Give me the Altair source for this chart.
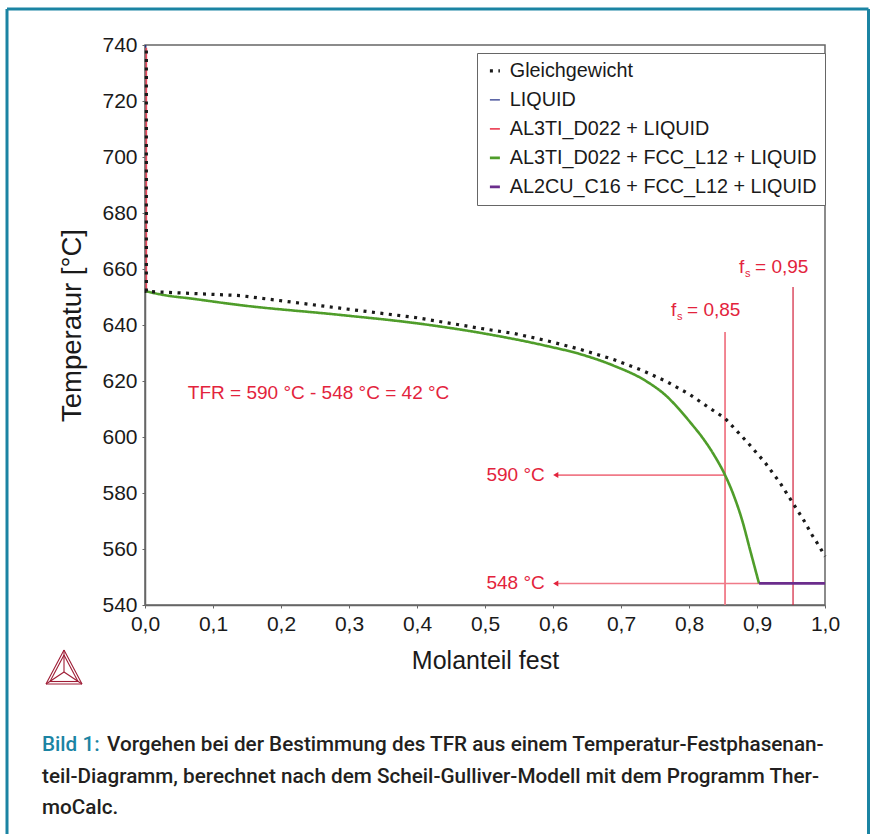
import altair as alt
import pandas as pd

# ---------------- data ----------------
series_names = [
    "Gleichgewicht",
    "LIQUID",
    "AL3TI_D022 + LIQUID",
    "AL3TI_D022 + FCC_L12 + LIQUID",
    "AL2CU_C16 + FCC_L12 + LIQUID",
]
series_colors = ["#1a1a1a", "#28348a", "#ec4a5e", "#4f9d2a", "#6b2d8c"]
series_dash = [[3, 5.5], [1, 0], [1, 0], [1, 0], [1, 0]]
series_width = [3.2, 1.3, 1.6, 2.6, 2.8]

eq_x = [0.002, 0.002, 0.066, 0.14, 0.287, 0.4, 0.493, 0.542, 0.591, 0.64, 0.689,
        0.733, 0.767, 0.801, 0.831, 0.853, 0.887, 0.912, 0.934, 0.953, 0.968,
        0.981, 0.993, 1.0]
eq_T = [738, 652, 651.3, 650.5, 646.0, 642.6, 638.8, 637.0, 634.4, 631.3, 627.7,
        623.6, 619.8, 615.2, 610.2, 606.7, 597.8, 590.8, 583.6, 576.3, 570.6,
        565.0, 560.4, 557.3]

liq_x = [0.001, 0.001]
liq_T = [740, 739]

al3_x = [0.002, 0.002]
al3_T = [739, 652]

gr_x = [0.002, 0.03, 0.066, 0.14, 0.287, 0.4, 0.493, 0.591, 0.64, 0.689, 0.738,
        0.767, 0.787, 0.806, 0.816, 0.835, 0.853, 0.866, 0.878, 0.89, 0.903]
gr_T = [652, 650.6, 649.5, 647.1, 643.6, 640.6, 637.2, 632.5, 629.6, 625.5, 619.8,
        614.6, 609.5, 604.0, 601.0, 594.3, 586.4, 579.0, 570.4, 559.5, 547.7]

pu_x = [0.903, 1.0]
pu_T = [547.7, 547.7]

x_ticks = [0.0, 0.1, 0.2, 0.3, 0.4, 0.5, 0.6, 0.7, 0.8, 0.9, 1.0]
y_ticks = [540, 560, 580, 600, 620, 640, 660, 680, 700, 720, 740]

fs_x = [0.853, 0.953]
fs_top = [637.5, 653.6]
fs_label_T = [645.4, 660.7]
fs_label = ["= 0,85", "= 0,95"]

arrow_T = [586.4, 547.7]
arrow_from = [0.853, 0.903]
arrow_to = [0.604, 0.604]
arrow_label = ["590 °C", "548 °C"]

tfr_text = "TFR = 590 °C - 548 °C = 42 °C"
tfr_x, tfr_T = 0.063, 615.7

caption_head = "Bild 1:"
caption_lines = [
    "Vorgehen bei der Bestimmung des TFR aus einem Temperatur-Festphasenan-",
    "teil-Diagramm, berechnet nach dem Scheil-Gulliver-Modell mit dem Programm Ther-",
    "moCalc.",
]

RED = "#e3233c"
PINK = "#f07a88"
TEAL = "#1b84a3"
FONT = "Liberation Sans"

# ---------------- build tables ----------------
def series_df(name, xs, ts):
    return pd.DataFrame({"series": name, "x": xs, "T": ts, "order": list(range(len(xs)))})

df_eq = series_df(series_names[0], eq_x, eq_T)
df_liq = series_df(series_names[1], liq_x, liq_T)
df_al3 = series_df(series_names[2], al3_x, al3_T)
df_gr = series_df(series_names[3], gr_x, gr_T)
df_pu = series_df(series_names[4], pu_x, pu_T)

x_enc = alt.X("x:Q", scale=alt.Scale(domain=[0, 1], nice=False),
              axis=alt.Axis(values=x_ticks, title="Molanteil fest", titleFontSize=25,
                            labelFlush=False,
                            labelExpr="replace(format(datum.value, '.1f'), '.', ',')"))
y_enc = alt.Y("T:Q", scale=alt.Scale(domain=[540, 740], nice=False, zero=False),
              axis=alt.Axis(values=y_ticks, title="Temperatur [°C]", format="d",
                            titleFontSize=27.5, labelFlush=False))

color_enc = alt.Color("series:N", scale=alt.Scale(domain=series_names, range=series_colors),
                      legend=alt.Legend(title=None))
dash_enc = alt.StrokeDash("series:N", scale=alt.Scale(domain=series_names, range=series_dash),
                          legend=alt.Legend(title=None))
width_enc = alt.StrokeWidth("series:N",
                            scale=alt.Scale(type="ordinal", domain=series_names,
                                            range=series_width),
                            legend=alt.Legend(title=None))


def line_layer(df, interp="linear"):
    return alt.Chart(df).mark_line(interpolate=interp).encode(
        x=x_enc, y=y_enc, color=color_enc, strokeDash=dash_enc,
        strokeWidth=width_enc, order="order:Q")


# vertical fs lines
df_fs = pd.DataFrame({"x": fs_x, "top": fs_top, "bot": [540, 540],
                      "lab_T": fs_label_T, "lab": fs_label})
fs_rule_a = alt.Chart(df_fs.iloc[[0]]).mark_rule(color=PINK, strokeWidth=1.8).encode(
    x="x:Q", y="top:Q", y2="bot:Q")
fs_rule_b = alt.Chart(df_fs.iloc[[1]]).mark_rule(color="#d21e3a", strokeWidth=1.2).encode(
    x="x:Q", y="top:Q", y2="bot:Q")
fs_f = alt.Chart(df_fs).mark_text(align="left", baseline="middle", dx=-54, fontSize=19,
                                  font=FONT, color=RED).encode(
    x="x:Q", y="lab_T:Q", text=alt.value("f"))
fs_s = alt.Chart(df_fs).mark_text(align="left", baseline="middle", dx=-48, dy=7, fontSize=11,
                                  font=FONT, color=RED).encode(
    x="x:Q", y="lab_T:Q", text=alt.value("s"))
fs_txt = alt.Chart(df_fs).mark_text(align="left", baseline="middle", dx=-38, fontSize=19,
                                    font=FONT, color=RED).encode(
    x="x:Q", y="lab_T:Q", text="lab:N")

# arrows
df_ar = pd.DataFrame({"T": arrow_T, "x1": arrow_to, "x2": arrow_from, "lab": arrow_label})
ar_rule = alt.Chart(df_ar).mark_rule(color=PINK, strokeWidth=1.6).encode(
    x="x1:Q", x2="x2:Q", y="T:Q")
ar_head = alt.Chart(df_ar).mark_point(shape="triangle-left", filled=True, size=36,
                                      color=RED, opacity=1).encode(x="x1:Q", y="T:Q")
ar_txt = alt.Chart(df_ar).mark_text(align="right", baseline="middle", dx=-11, fontSize=19,
                                    font=FONT, color=RED).encode(
    x="x1:Q", y="T:Q", text="lab:N")

# TFR text
df_tfr = pd.DataFrame({"x": [tfr_x], "T": [tfr_T], "t": [tfr_text]})
tfr = alt.Chart(df_tfr).mark_text(align="left", baseline="middle", fontSize=19, font=FONT,
                                  color=RED).encode(x="x:Q", y="T:Q", text="t:N")

# decorations (page frame, logo, caption) placed in pixel space around the plot
one = alt.Data(values=[{}])
OX, OY = 145, 45


def px(v):
    return alt.value(v - OX)


def py(v):
    return alt.value(v - OY)


frame = [
    alt.Chart(one).mark_rule(color=TEAL, strokeWidth=3).encode(
        x=px(7), y=py(9), y2=py(850)),
    alt.Chart(one).mark_rule(color=TEAL, strokeWidth=3).encode(
        x=px(868.5), y=py(9), y2=py(850)),
    alt.Chart(one).mark_rule(color=TEAL, strokeWidth=3).encode(
        x=px(7), x2=px(868.5), y=py(9)),
]

A, BL, BR, C = (64, 650), (46, 684), (82, 684), (64, 672)
A2, BL2, BR2 = (64, 655), (50, 681.5), (78, 681.5)
segs = [(A, BL), (BL, BR), (BR, A), (A2, BL2), (BL2, BR2), (BR2, A2),
        (A, C), (BL, C), (BR, C)]
logo = [
    alt.Chart(one).mark_rule(color="#9e1c35", strokeWidth=1.1).encode(
        x=px(p[0]), y=py(p[1]), x2=px(q[0]), y2=py(q[1]))
    for p, q in segs
]

cap_font = "Roboto"
cap_size = 20.7
cap_y = [745, 777, 808]
caption = [
    alt.Chart(one).mark_text(align="left", baseline="middle", fontSize=cap_size, font=cap_font,
                             fontWeight=500, color=TEAL).encode(
        x=px(42), y=py(cap_y[0]), text=alt.value(caption_head)),
    alt.Chart(one).mark_text(align="left", baseline="middle", fontSize=cap_size, font=cap_font,
                             fontWeight=500, color="#231f20").encode(
        x=px(107), y=py(cap_y[0]), text=alt.value(caption_lines[0])),
    alt.Chart(one).mark_text(align="left", baseline="middle", fontSize=cap_size, font=cap_font,
                             fontWeight=500, color="#231f20").encode(
        x=px(42), y=py(cap_y[1]), text=alt.value(caption_lines[1])),
    alt.Chart(one).mark_text(align="left", baseline="middle", fontSize=cap_size, font=cap_font,
                             fontWeight=500, color="#231f20").encode(
        x=px(42), y=py(cap_y[2]), text=alt.value(caption_lines[2])),
]

layers = [fs_rule_a, fs_rule_b, ar_rule, ar_head, line_layer(df_liq), line_layer(df_al3),
          line_layer(df_gr, "monotone"), line_layer(df_pu), line_layer(df_eq),
          fs_f, fs_s, fs_txt, ar_txt, tfr] + frame + logo + caption

chart = alt.layer(*layers).properties(
    width=680, height=560,
    padding={"left": OX, "top": OY, "right": 874 - OX - 680, "bottom": 834 - OY - 560},
    autosize=alt.AutoSizeParams(type="none"),
    background="white",
).configure_view(
    stroke="#666", strokeWidth=1.5
).configure_axis(
    grid=False, domainColor="#666", domainWidth=1.5, tickColor="#666", tickSize=3,
    labelFont=FONT, labelFontSize=21, labelColor="#1a1a1a",
    titleFont=FONT, titleFontWeight="normal", titleColor="#1a1a1a",
).configure_axisX(
    labelPadding=5, titlePadding=14,
).configure_axisY(
    labelPadding=5, titlePadding=15,
).configure_legend(
    orient="none", legendX=332, legendY=8, strokeColor="#666", fillColor="white",
    padding=8, labelFont=FONT, labelFontSize=19.8, labelColor="#1a1a1a", labelLimit=0,
    symbolType="stroke", symbolSize=100, rowPadding=8, labelOffset=5,
    cornerRadius=0,
)

chart.save("out.html", embed_options={"renderer": "svg", "actions": False})
